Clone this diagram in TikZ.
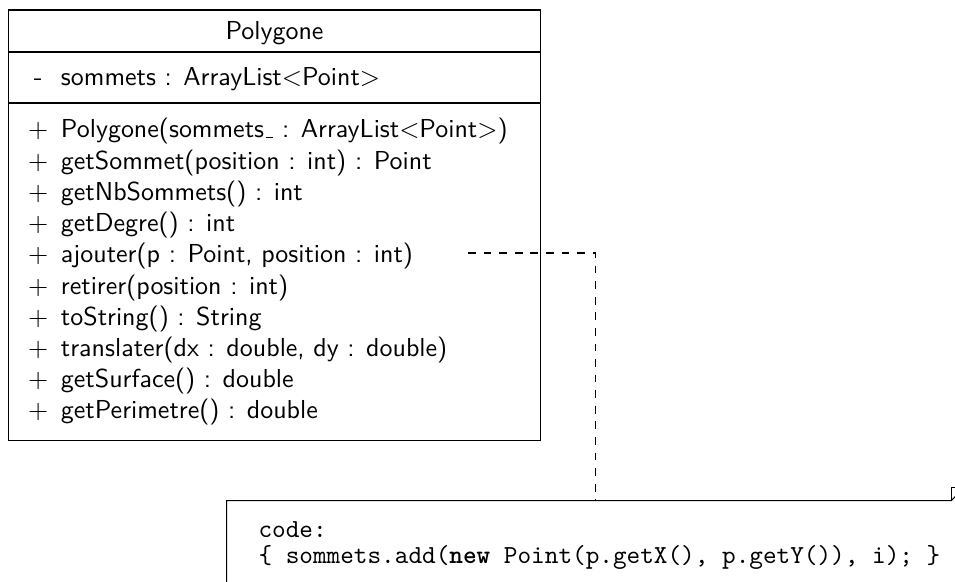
\documentclass[tikz,border=0pt]{standalone}
\usepackage{amsmath}
\usepackage{tikz}
\newcommand{\vis}[1]{\makebox[17.5pt]{#1}}
\newcommand{\lowbar}{\kern.06em\rule{.3em}{0.4pt}}
\tikzset{
  member/.style={anchor=base west, inner sep=0pt, font=\sffamily},
  classname/.style={anchor=base, inner sep=0pt, font=\sffamily},
  codetext/.style={anchor=base west, inner sep=0pt, font=\ttfamily},
  notebox/.style={anchor=north west, inner sep=0pt, minimum width=283.7pt, minimum height=42pt},
}

\begin{document}
\begin{tikzpicture}[x=0.385pt,y=0.385pt,yscale=-1]
\clip (0,0) rectangle (955,582);

%Shape: Rectangle [class Polygone]
\draw (8.5,10) -- (540.5,10) -- (540.5,440.5) -- (8.5,440.5) -- cycle ;
%Straight Lines [name / attributes]
\draw (8.5,52) -- (540.5,52) ;
%Straight Lines [attributes / operations]
\draw (8.5,103) -- (540.5,103) ;

% Text Node
\node[classname] (name) at (274.5,39) {Polygone};
% Text Node
\node[member] (att1) at (15,85) {\vis{-}sommets : ArrayList$<$Point$>$};
% Text Node
\node[member] (op1) at (15,138) {\vis{$+$}Polygone(sommets\lowbar{} : ArrayList$<$Point$>$)};
% Text Node
\node[member] (op2) at (15,169.2) {\vis{$+$}getSommet(position : int) : Point};
% Text Node
\node[member] (op3) at (15,200.4) {\vis{$+$}getNbSommets() : int};
% Text Node
\node[member] (op4) at (15,231.6) {\vis{$+$}getDegre() : int};
% Text Node
\node[member] (op5) at (15,262.8) {\vis{$+$}ajouter(p : Point, position : int)};
% Text Node
\node[member] (op6) at (15,294) {\vis{$+$}retirer(position : int)};
% Text Node
\node[member] (op7) at (15,325.2) {\vis{$+$}toString() : String};
% Text Node
\node[member] (op8) at (15,356.4) {\vis{$+$}translater(dx : double, dy : double)};
% Text Node
\node[member] (op9) at (15,387.6) {\vis{$+$}getSurface() : double};
% Text Node
\node[member] (op10) at (15,418.8) {\vis{$+$}getPerimetre() : double};

%Shape: Note
\node[notebox] (note) at (226.7,500.7) {};
\draw (note.south west) -- (note.north west) -- ([xshift=-5.2pt]note.north east) -- ([yshift=-5.2pt]note.north east) -- (note.south east) ;
\draw ([xshift=-5.2pt]note.north east) |- ([yshift=-5.2pt]note.north east) ;

% Text Node
\node[codetext] (code1) at (258,537) {code:};
% Text Node
\node[codetext] (code2) at (258,563) {\{ sommets.add(\textbf{new} Point(p.getX(), p.getY()), i); \}};

%Straight Lines [note link]
\coordinate (link) at (468,253);
\draw [dashed] (link) -| (note.north) ;

\end{tikzpicture}
\end{document}
